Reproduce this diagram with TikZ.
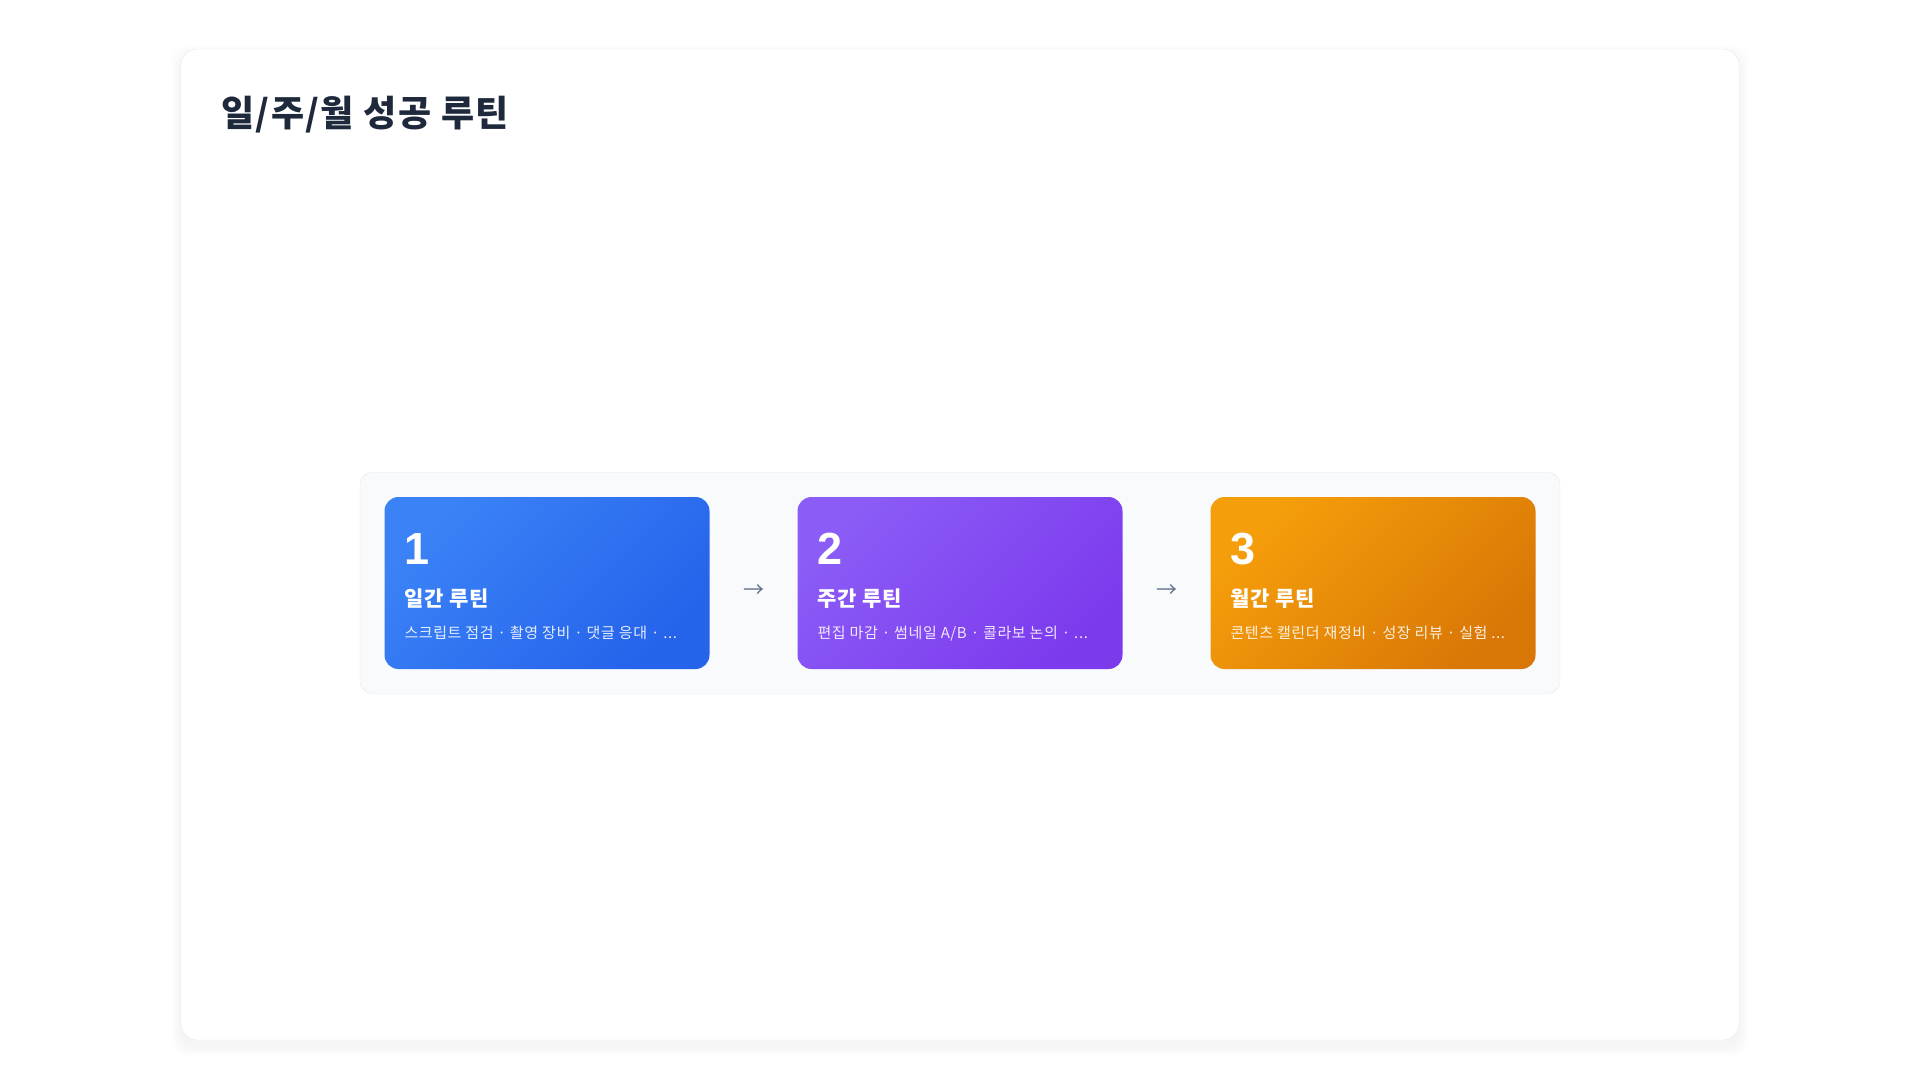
\documentclass[tikz,border=0pt]{standalone}
\usepackage{fontspec}
\setmainfont{Noto Sans CJK KR}
\newfontfamily\numfont{Liberation Sans}
\newfontfamily\krwide{Noto Sans CJK KR}[LetterSpace=4]
\usepackage{tikz}
\usetikzlibrary{matrix}
\definecolor{inkdark}{HTML}{1E293B}
\definecolor{linegray}{HTML}{E2E8F0}
\definecolor{panelbg}{HTML}{F8FAFC}
\definecolor{arrowgray}{HTML}{64748B}
\definecolor{blueA}{HTML}{3B82F6}
\definecolor{blueB}{HTML}{2563EB}
\definecolor{violetA}{HTML}{8B5CF6}
\definecolor{violetB}{HTML}{7C3AED}
\definecolor{amberA}{HTML}{F59E0B}
\definecolor{amberB}{HTML}{D97706}
\tikzset{
  card/.style 2 args={minimum width=325pt, minimum height=172pt, inner sep=0pt,
    rounded corners=14pt, top color=#1, bottom color=#2, shading angle=45},
  flowarrow/.style={minimum width=88pt, inner sep=0pt, text=arrowgray, yshift=-8.5pt,
    font=\fontsize{21}{21}\selectfont},
  numtxt/.style={anchor=base west, inner sep=0pt, text=white,
    font=\numfont\bfseries\fontsize{45}{45}\selectfont},
  headtxt/.style={anchor=base west, inner sep=0pt, text=white,
    font=\krwide\bfseries\fontsize{21}{21}\selectfont},
  desctxt/.style={anchor=base west, inner sep=0pt, text=white, text opacity=0.88,
    font=\krwide\fontsize{15}{15}\selectfont}
}

\begin{document}
\begin{tikzpicture}[x=1pt, y=-1pt]
			\useasboundingbox (0,0) rectangle (1920,1088);
			% outer card with soft shadow
			\foreach \s in {1,...,10}
				\fill[black, opacity=0.004, rounded corners=16pt] (181-\s,55-\s) rectangle (1739+\s,1046+\s);
			\draw[linegray, fill=white, rounded corners=16pt] (181,49) rectangle (1739,1040);
			\node[anchor=base west, inner sep=0pt, text=inkdark, font=\krwide\bfseries\fontsize{36}{36}\selectfont] (title) at (221,126) {일/주/월 성공 루틴};
			% the row of routines
			\matrix (row) [anchor=center, draw=linegray, fill=panelbg, rounded corners=12pt,
				inner sep=24.5pt, column sep=0pt, nodes={anchor=center}] at (960,583)
			{
				\node[card={blueA}{blueB}] (c1) {}; & \node[flowarrow] (a1) {→}; &
				\node[card={violetA}{violetB}] (c2) {}; & \node[flowarrow] (a2) {→}; &
				\node[card={amberA}{amberB}] (c3) {}; \\
			};
			\node[numtxt] (n1) at ([xshift=20pt,yshift=-68pt]c1.north west) {1};
			\node[headtxt] (h1) at ([xshift=20pt,yshift=-109.5pt]c1.north west) {일간 루틴};
			\node[desctxt] (d1) at ([xshift=20pt,yshift=-141.5pt]c1.north west) {스크립트 점검 · 촬영 장비 · 댓글 응대 · ...};
			\node[numtxt] (n2) at ([xshift=20pt,yshift=-68pt]c2.north west) {2};
			\node[headtxt] (h2) at ([xshift=20pt,yshift=-109.5pt]c2.north west) {주간 루틴};
			\node[desctxt] (d2) at ([xshift=20pt,yshift=-141.5pt]c2.north west) {편집 마감 · 썸네일 A/B · 콜라보 논의 · ...};
			\node[numtxt] (n3) at ([xshift=20pt,yshift=-68pt]c3.north west) {3};
			\node[headtxt] (h3) at ([xshift=20pt,yshift=-109.5pt]c3.north west) {월간 루틴};
			\node[desctxt] (d3) at ([xshift=20pt,yshift=-141.5pt]c3.north west) {콘텐츠 캘린더 재정비 · 성장 리뷰 · 실험 ...};
		\end{tikzpicture}
\end{document}
